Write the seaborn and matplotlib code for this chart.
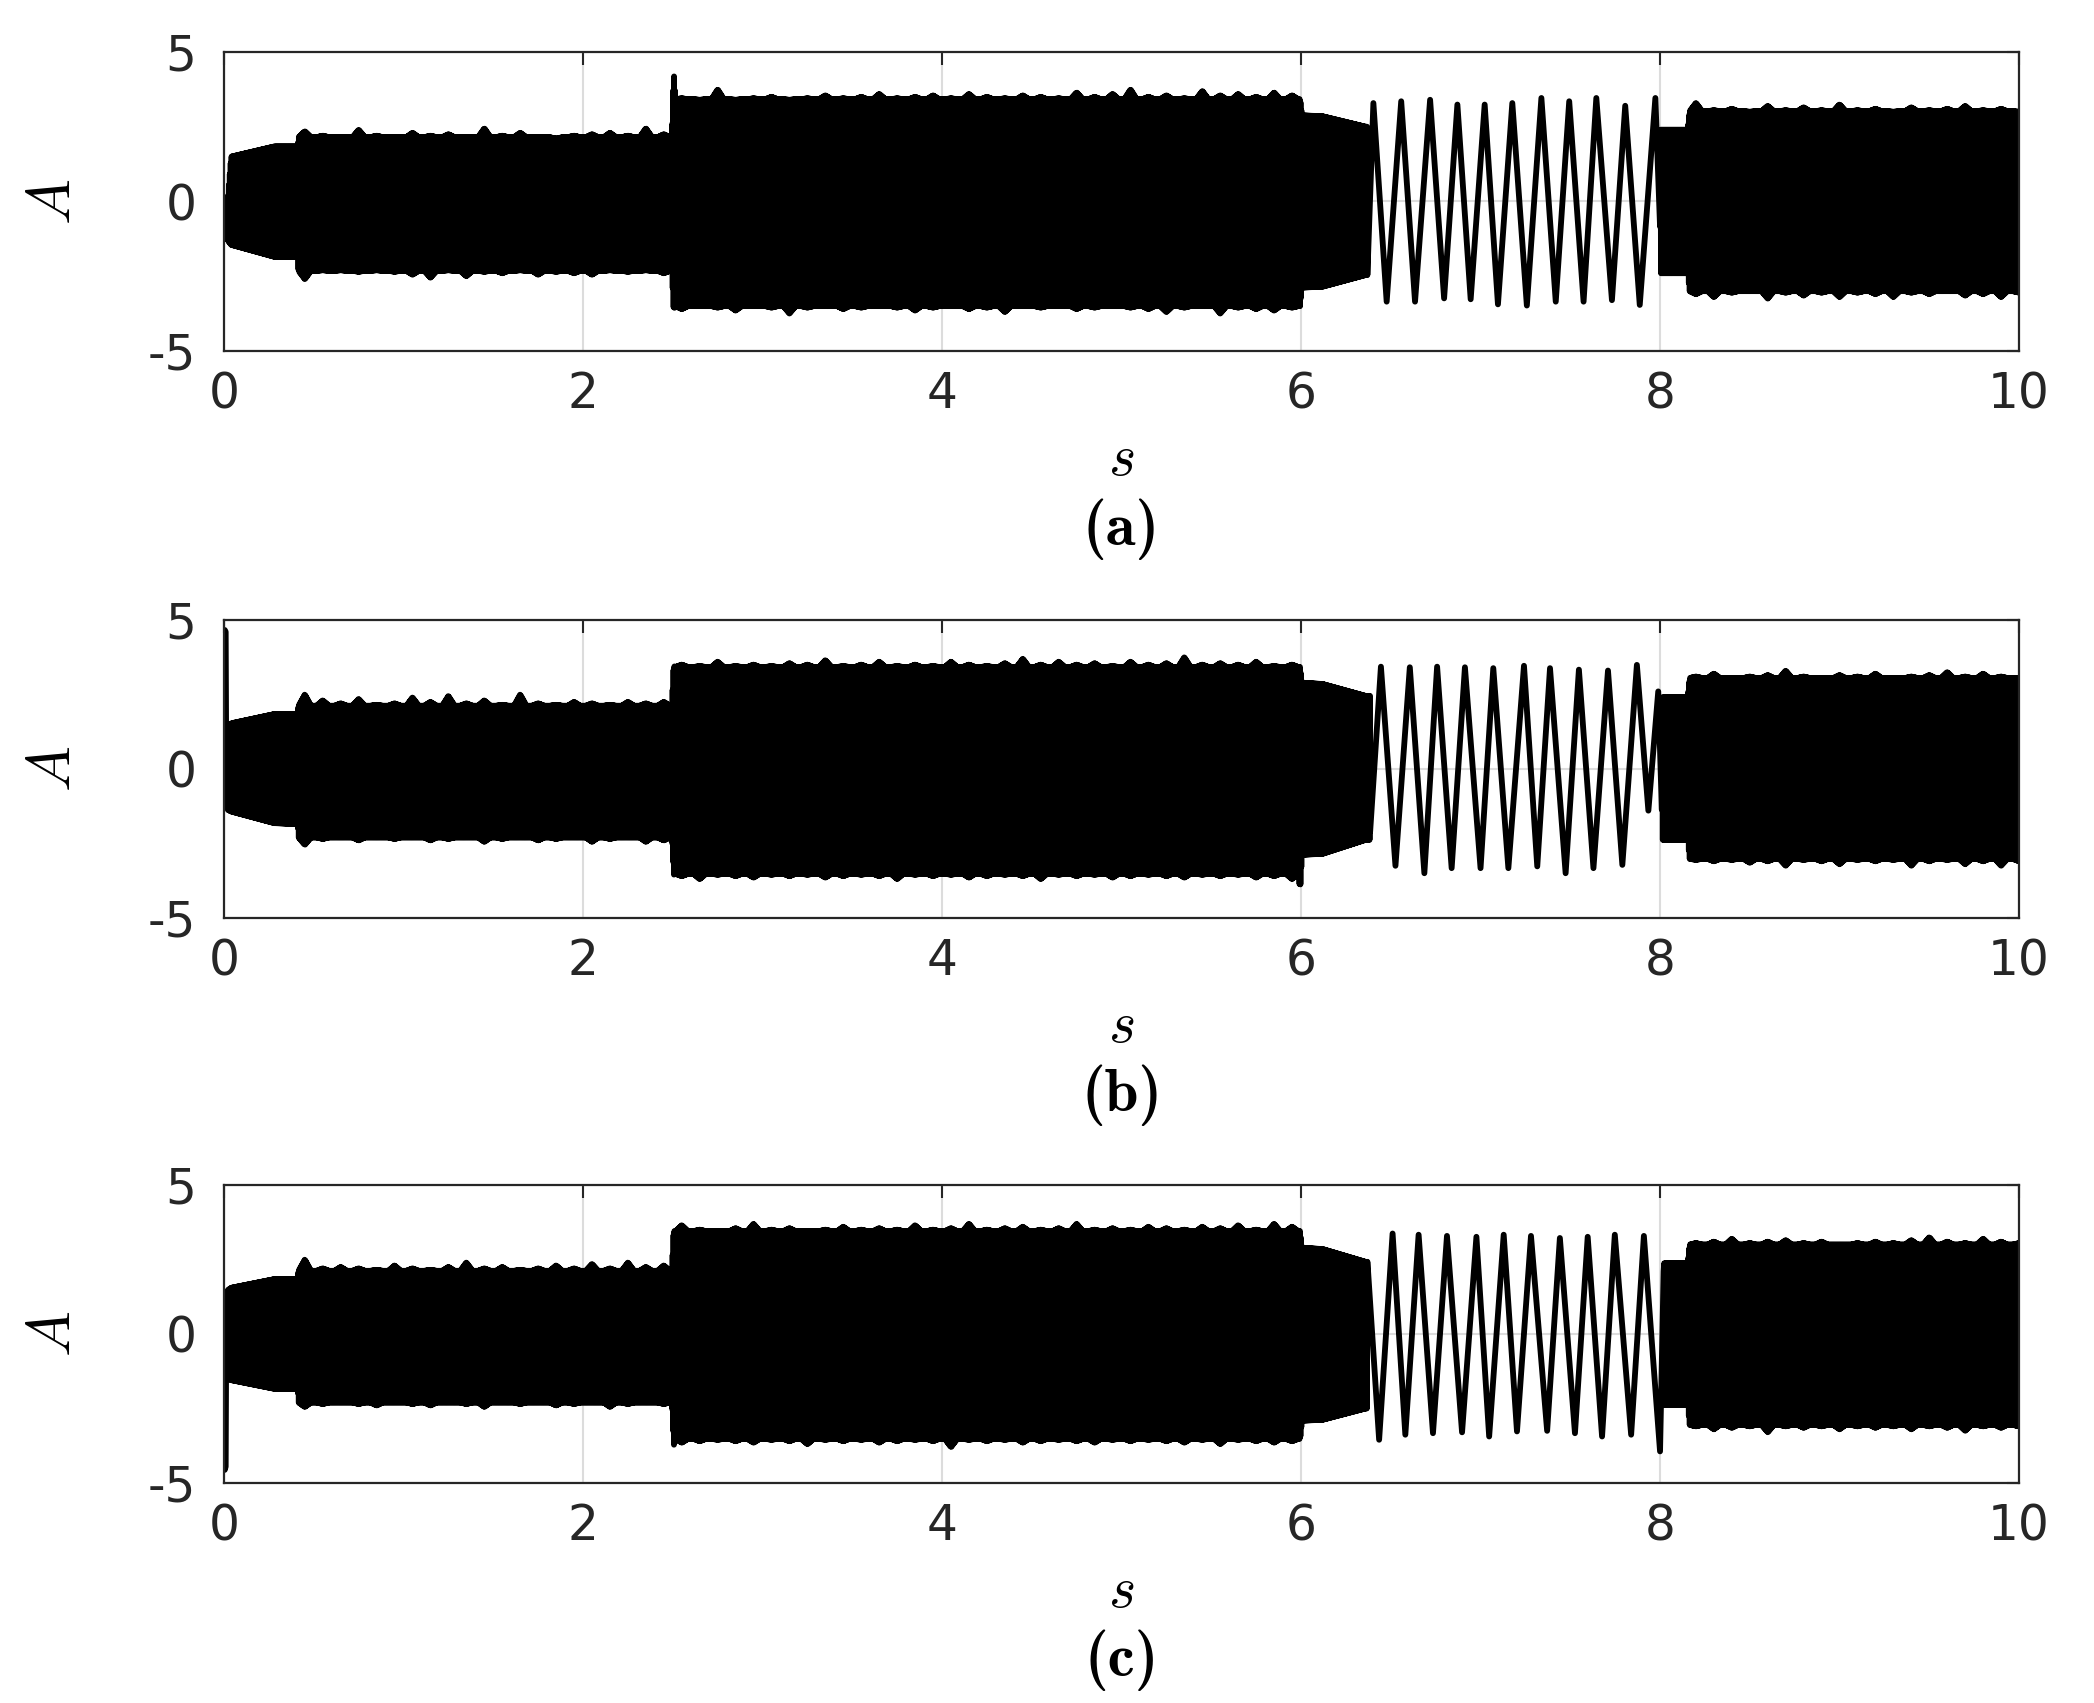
import numpy as np
import pandas as pd
import matplotlib
matplotlib.use('Agg')
import matplotlib.pyplot as plt
import seaborn as sns

# envelope knot times (s), shared by the three panels
head_t = [0.0, 0.02, 0.04, 0.28, 0.41]
noisy1_t = np.round(np.arange(0.45, 2.46, 0.1), 2)
jump_t = [2.495, 2.505]
noisy2_t = np.round(np.arange(2.55, 5.96, 0.1), 2)
fall_t = [5.995, 6.005, 6.12, 6.36]
tailband_t = [8.02, 8.155]
tail_t = np.round(np.arange(8.2, 10.01, 0.1), 2)

# ---- panel (a) ----
a_start_t = [0.0, 0.005]
a_start_v = [0.0, -0.4]
a_head_hi = [0.05, 0.05, 1.5, 1.84, 1.84]
a_head_lo = [-0.3, -1.3, -1.45, -1.85, -1.85]
a_base_hi = [2.15, 3.42, 3.02]
a_base_lo = [-2.32, -3.5, -3.0]
a_n1_hi = [2.35, 2.2, 2.15, 2.4, 2.2, 2.15, 2.3, 2.2, 2.25, 2.15, 2.45, 2.2, 2.3, 2.15, 2.1, 2.2, 2.25, 2.3, 2.2, 2.45, 2.25]
a_n1_lo = [-2.6, -2.3, -2.3, -2.35, -2.3, -2.35, -2.45, -2.55, -2.3, -2.5, -2.35, -2.4, -2.3, -2.45, -2.35, -2.4, -2.45, -2.3, -2.35, -2.3, -2.4]
a_jump_hi = [2.15, 4.37]
a_jump_lo = [-2.32, -3.6]
a_n2_hi = [3.45, 3.4, 3.75, 3.4, 3.45, 3.5, 3.4, 3.45, 3.55, 3.45, 3.5, 3.6, 3.45, 3.5, 3.55, 3.45, 3.6, 3.5,
           3.45, 3.55, 3.5, 3.45, 3.65, 3.5, 3.6, 3.75, 3.5, 3.55, 3.45, 3.7, 3.55, 3.6, 3.5, 3.65, 3.55]
a_n2_lo = [-3.6, -3.5, -3.55, -3.65, -3.5, -3.55, -3.75, -3.55, -3.5, -3.6, -3.55, -3.5, -3.55, -3.65, -3.55, -3.5,
           -3.6, -3.55, -3.7, -3.5, -3.55, -3.5, -3.6, -3.55, -3.5, -3.55, -3.6, -3.7, -3.55, -3.5, -3.75, -3.55,
           -3.6, -3.65, -3.55]
a_fall_hi = [3.42, 2.88, 2.85, 2.5]
a_fall_lo = [-3.5, -2.88, -2.85, -2.46]
a_slow_t = [6.37, 6.403, 6.477, 6.558, 6.635, 6.719, 6.797, 6.871, 6.945, 7.023, 7.097, 7.177, 7.258,
            7.339, 7.419, 7.494, 7.574, 7.645, 7.732, 7.806, 7.887, 7.974, 8.0]
a_slow_v = [-2.4, 3.29, -3.35, 3.35, -3.35, 3.4, -3.24, 3.24, -3.27, 3.24, -3.44, 3.29, -3.48,
            3.46, -3.35, 3.35, -3.35, 3.46, -3.3, 3.2, -3.46, 3.46, -0.84]
a_tailband_hi = [2.4, 2.4]
a_tailband_lo = [-2.4, -2.4]
a_tail_hi = [3.3, 3.05, 3.1, 3.0, 3.2, 3.05, 3.15, 3.05, 3.25, 3.05, 3.1, 3.0, 3.15, 3.05, 3.1, 3.2, 3.05, 3.1, 3.0]
a_tail_lo = [-3.1, -3.2, -3.05, -3.0, -3.25, -3.05, -3.15, -3.05, -3.2, -3.05, -3.1, -3.2, -3.05, -3.1, -3.0, -3.15, -3.1, -3.2, -3.05]

# ---- panel (b) ----
b_start_t = [0.0, 0.004, 0.009, 0.012]
b_start_v = [0.0, 4.66, 4.6, 0.3]
b_head_hi = [1.0, 1.3, 1.53, 1.84, 1.84]
b_head_lo = [-0.5, -1.37, -1.43, -1.82, -1.85]
b_base_hi = [2.12, 3.42, 3.05]
b_base_lo = [-2.3, -3.52, -3.02]
b_n1_hi = [2.5, 2.3, 2.2, 2.35, 2.15, 2.2, 2.4, 2.25, 2.45, 2.2, 2.3, 2.15, 2.5, 2.2, 2.15, 2.25, 2.2, 2.15, 2.25, 2.2, 2.25]
b_n1_lo = [-2.55, -2.35, -2.3, -2.4, -2.3, -2.35, -2.3, -2.4, -2.35, -2.3, -2.45, -2.35, -2.3, -2.4, -2.35, -2.3, -2.45, -2.35, -2.3, -2.45, -2.4]
b_jump_hi = [2.12, 3.45]
b_jump_lo = [-2.3, -3.55]
b_n2_hi = [3.5, 3.45, 3.6, 3.45, 3.5, 3.45, 3.55, 3.5, 3.65, 3.45, 3.5, 3.6, 3.45, 3.5, 3.45, 3.6, 3.5, 3.45,
           3.55, 3.7, 3.5, 3.6, 3.5, 3.55, 3.45, 3.6, 3.5, 3.55, 3.75, 3.5, 3.55, 3.5, 3.6, 3.45, 3.5]
b_n2_lo = [-3.6, -3.7, -3.55, -3.6, -3.65, -3.55, -3.6, -3.55, -3.65, -3.6, -3.55, -3.6, -3.7, -3.55, -3.6, -3.55,
           -3.65, -3.6, -3.55, -3.6, -3.7, -3.55, -3.6, -3.55, -3.65, -3.6, -3.55, -3.6, -3.65, -3.55, -3.6, -3.55,
           -3.65, -3.6, -3.7]
b_fall_hi = [3.42, 2.89, 2.85, 2.45]
b_fall_lo = [-4.05, -2.88, -2.85, -2.38]
b_slow_t = [6.385, 6.445, 6.526, 6.606, 6.687, 6.758, 6.839, 6.913, 7.0, 7.071, 7.155, 7.242, 7.316,
            7.387, 7.474, 7.548, 7.629, 7.71, 7.79, 7.871, 7.935, 7.99, 8.01]
b_slow_v = [-2.1, 3.43, -3.25, 3.41, -3.5, 3.43, -3.33, 3.41, -3.33, 3.38, -3.33, 3.46, -3.27,
            3.38, -3.5, 3.33, -3.33, 3.3, -3.22, 3.49, -1.4, 2.6, -1.37]
b_tailband_hi = [2.4, 2.4]
b_tailband_lo = [-2.38, -2.38]
b_tail_hi = [3.1, 3.2, 3.05, 3.1, 3.15, 3.3, 3.1, 3.05, 3.15, 3.1, 3.2, 3.05, 3.1, 3.15, 3.25, 3.1, 3.2, 3.1, 3.05]
b_tail_lo = [-3.05, -3.1, -3.05, -3.15, -3.1, -3.25, -3.05, -3.1, -3.2, -3.05, -3.1, -3.05, -3.25, -3.1, -3.05, -3.2, -3.1, -3.25, -3.1]

# ---- panel (c) ----
c_start_t = [0.0, 0.004, 0.009, 0.012]
c_start_v = [0.0, -4.56, -4.45, 0.0]
c_head_hi = [1.0, 1.47, 1.55, 1.84, 1.84]
c_head_lo = [-1.0, -1.49, -1.55, -1.84, -1.84]
c_base_hi = [2.12, 3.45, 3.0]
c_base_lo = [-2.3, -3.52, -3.05]
c_n1_hi = [2.5, 2.2, 2.25, 2.2, 2.15, 2.3, 2.2, 2.15, 2.25, 2.4, 2.2, 2.25, 2.15, 2.2, 2.3, 2.2, 2.35, 2.2, 2.4, 2.25, 2.3]
c_n1_lo = [-2.45, -2.35, -2.3, -2.35, -2.4, -2.3, -2.35, -2.4, -2.3, -2.35, -2.45, -2.3, -2.35, -2.3, -2.4, -2.35, -2.3, -2.45, -2.35, -2.3, -2.35]
c_jump_hi = [2.12, 3.45]
c_jump_lo = [-2.3, -3.75]
c_n2_hi = [3.65, 3.5, 3.45, 3.55, 3.7, 3.5, 3.55, 3.45, 3.5, 3.6, 3.5, 3.55, 3.5, 3.65, 3.5, 3.55, 3.7, 3.5,
           3.55, 3.6, 3.5, 3.55, 3.7, 3.5, 3.55, 3.5, 3.6, 3.55, 3.5, 3.6, 3.55, 3.65, 3.5, 3.7, 3.6]
c_n2_lo = [-3.65, -3.6, -3.55, -3.6, -3.65, -3.55, -3.6, -3.7, -3.55, -3.6, -3.55, -3.65, -3.6, -3.55, -3.6, -3.8,
           -3.55, -3.6, -3.55, -3.65, -3.6, -3.55, -3.6, -3.65, -3.55, -3.6, -3.55, -3.6, -3.65, -3.55, -3.7, -3.55,
           -3.6, -3.65, -3.6]
c_fall_hi = [3.45, 2.89, 2.85, 2.42]
c_fall_lo = [-3.52, -2.91, -2.88, -2.5]
c_slow_t = [6.37, 6.435, 6.51, 6.581, 6.655, 6.735, 6.813, 6.897, 6.977, 7.048, 7.129, 7.203, 7.281,
            7.371, 7.442, 7.526, 7.597, 7.677, 7.748, 7.839, 7.91, 8.0, 8.02]
c_slow_v = [2.42, -3.55, 3.37, -3.38, 3.33, -3.33, 3.29, -3.3, 3.26, -3.44, 3.33, -3.27, 3.29,
            -3.25, 3.22, -3.33, 3.26, -3.44, 3.33, -3.38, 3.29, -3.94, 2.1]
c_tailband_hi = [2.37, 2.37]
c_tailband_lo = [-2.38, -2.38]
c_tail_hi = [3.05, 3.1, 3.2, 3.05, 3.1, 3.15, 3.05, 3.1, 3.0, 3.05, 3.1, 3.05, 3.15, 3.25, 3.1, 3.05, 3.2, 3.1, 3.05]
c_tail_lo = [-3.1, -3.2, -3.15, -3.1, -3.3, -3.1, -3.15, -3.1, -3.2, -3.1, -3.15, -3.1, -3.2, -3.1, -3.15, -3.25, -3.1, -3.15, -3.1]

x_ticks = [0, 2, 4, 6, 8, 10]
y_ticks = [-5, 0, 5]
captions = ['(a)', '(b)', '(c)']


# spikes on a flat base at each noisy knot
def spiky(knot_t, vals, base, w=0.035):
    tt, vv = [], []
    for tk, vk in zip(knot_t, vals):
        tt += [tk - w, tk, tk + w]
        vv += [base, vk, base]
    return tt, vv


def edge(head_v, n1_v, jump_v, n2_v, fall_v, base):
    t1, v1 = spiky(noisy1_t, n1_v, base[0])
    t2, v2 = spiky(noisy2_t, n2_v, base[1])
    t = np.concatenate([head_t, t1, jump_t, t2, fall_t])
    v = np.concatenate([head_v, v1, jump_v, v2, fall_v])
    return t, v


def tail_edge(band_v, noisy_v, base):
    t1, v1 = spiky(tail_t, noisy_v, base[2])
    return np.concatenate([tailband_t, t1]), np.concatenate([band_v, v1])


# fast carrier drawn as a zigzag between the read upper / lower envelopes
def dense_band(t0, t1, hi_edge, lo_edge, dt=0.0025):
    t = np.arange(t0, t1, dt)
    top = np.interp(t, hi_edge[0], hi_edge[1])
    bot = np.interp(t, lo_edge[0], lo_edge[1])
    y = np.where(np.arange(len(t)) % 2 == 0, top, bot)
    return t, y


def build_trace(start_t, start_v, hi, lo, slow_t, slow_v, tail_hi, tail_lo):
    t1, y1 = dense_band(start_t[-1] + 0.002, slow_t[0], hi, lo)
    t2, y2 = dense_band(slow_t[-1] + 0.003, 10.0, tail_hi, tail_lo)
    t = np.concatenate([start_t, t1, slow_t, t2])
    y = np.concatenate([start_v, y1, slow_v, y2])
    return pd.DataFrame({'time': t, 'A': y})


traces = [
    build_trace(a_start_t, a_start_v,
                edge(a_head_hi, a_n1_hi, a_jump_hi, a_n2_hi, a_fall_hi, a_base_hi),
                edge(a_head_lo, a_n1_lo, a_jump_lo, a_n2_lo, a_fall_lo, a_base_lo),
                a_slow_t, a_slow_v,
                tail_edge(a_tailband_hi, a_tail_hi, a_base_hi),
                tail_edge(a_tailband_lo, a_tail_lo, a_base_lo)),
    build_trace(b_start_t, b_start_v,
                edge(b_head_hi, b_n1_hi, b_jump_hi, b_n2_hi, b_fall_hi, b_base_hi),
                edge(b_head_lo, b_n1_lo, b_jump_lo, b_n2_lo, b_fall_lo, b_base_lo),
                b_slow_t, b_slow_v,
                tail_edge(b_tailband_hi, b_tail_hi, b_base_hi),
                tail_edge(b_tailband_lo, b_tail_lo, b_base_lo)),
    build_trace(c_start_t, c_start_v,
                edge(c_head_hi, c_n1_hi, c_jump_hi, c_n2_hi, c_fall_hi, c_base_hi),
                edge(c_head_lo, c_n1_lo, c_jump_lo, c_n2_lo, c_fall_lo, c_base_lo),
                c_slow_t, c_slow_v,
                tail_edge(c_tailband_hi, c_tail_hi, c_base_hi),
                tail_edge(c_tailband_lo, c_tail_lo, c_base_lo)),
]

sns.set_style('white')
plt.rcParams['font.family'] = ['DejaVu Sans']
plt.rcParams['mathtext.fontset'] = 'cm'
plt.rcParams['axes.unicode_minus'] = False

fig = plt.figure(figsize=(20.94, 17.03), dpi=100)
boxes = [[0.107, 0.7939, 0.8572, 0.1756],
         [0.107, 0.4610, 0.8572, 0.1750],
         [0.107, 0.1292, 0.8572, 0.1750]]

dark = '#262626'
for box, df, cap in zip(boxes, traces, captions):
    ax = fig.add_axes(box)
    sns.lineplot(data=df, x='time', y='A', ax=ax, estimator=None, sort=False,
                 color='black', linewidth=4.2)
    ax.set_xlim(0, 10)
    ax.set_ylim(-5, 5)
    ax.set_xticks(x_ticks)
    ax.set_yticks(y_ticks)
    ax.grid(True, color='#dcdcdc', linewidth=1.5)
    ax.set_axisbelow(True)
    ax.tick_params(direction='in', length=9, width=1.5, color=dark, labelcolor=dark,
                   labelsize=35, top=True, right=True)
    ax.tick_params(axis='x', pad=14)
    ax.tick_params(axis='y', pad=20)
    for sp in ax.spines.values():
        sp.set_visible(True)
        sp.set_color(dark)
        sp.set_linewidth(1.6)
    ax.set_xlabel('$s$', fontsize=42, color='black')
    ax.xaxis.set_label_coords(0.5, -0.36)
    ax.xaxis.label.set_va('center')
    ax.set_ylabel('$A$', fontsize=44, color='black')
    ax.yaxis.set_label_coords(-0.095, 0.5)
    ax.yaxis.label.set_va('center')
    ax.yaxis.label.set_ha('center')
    ax.text(0.5, -0.595, cap, transform=ax.transAxes, family='cmb10',
            ha='center', va='center', fontsize=44, color='black')

fig.savefig('out.png', dpi=100, facecolor='white')
